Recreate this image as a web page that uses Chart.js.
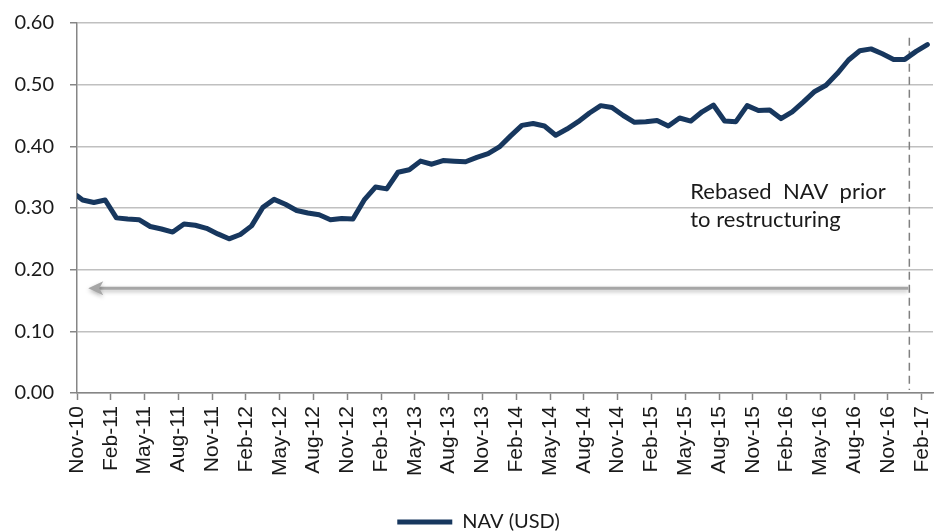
<!DOCTYPE html>
<html><head><meta charset="utf-8">
<script src="https://cdn.jsdelivr.net/npm/chart.js@4.4.1/dist/chart.umd.min.js"></script>
<style>html,body{margin:0;padding:0;background:#fff}canvas{display:block}</style>
</head><body>
<canvas id="c" width="936" height="531"></canvas>
<script>
// Tick labels every 3 months (month 0 = Nov-10)
const tickLabels = ['Nov-10','Feb-11','May-11','Aug-11','Nov-11','Feb-12','May-12','Aug-12','Nov-12',
  'Feb-13','May-13','Aug-13','Nov-13','Feb-14','May-14','Aug-14','Nov-14','Feb-15','May-15','Aug-15',
  'Nov-15','Feb-16','May-16','Aug-16','Nov-16','Feb-17'];
const tickStepMonths = 3;
const axisEndMonth = 76;
// NAV (USD): launch value, then one value per month (mid-month)
const navValues = [0.320,
  0.313,0.309,0.313,0.284,0.282,0.281,0.270,0.266,0.261,0.274,0.272,0.267,0.258,0.250,0.257,0.271,
  0.301,0.314,0.306,0.296,0.292,0.289,0.281,0.283,0.282,0.313,0.334,0.331,0.358,0.362,0.376,0.371,
  0.377,0.376,0.375,0.382,0.388,0.399,0.417,0.434,0.437,0.433,0.418,0.428,0.440,0.454,0.466,0.463,
  0.450,0.439,0.440,0.442,0.433,0.446,0.441,0.456,0.467,0.441,0.440,0.466,0.458,0.459,0.445,0.456,
  0.472,0.489,0.499,0.518,0.540,0.555,0.558,0.550,0.541,0.541,0.554,0.565];
const seriesName = 'NAV (USD)';
const yTicks = [0.00,0.10,0.20,0.30,0.40,0.50,0.60];
const annotationLines = ['Rebased  NAV  prior', 'to restructuring'];
const restructureMonth = 73.9;   // dashed marker
const arrowLevel = 0.17;         // arrow value
const arrowTipMonth = 1.0;
const noteMonth = 54.45;
const noteLevel = 0.3146;

const navMonth = navValues.map((v, i) => i === 0 ? 0 : i - 0.5);
const points = navValues.map((v, i) => ({x: navMonth[i], y: v}));

const legendShift = {
  id: 'legendShift',
  afterLayout(chart) { if (chart.legend) chart.legend.left += 24; }
};

const annot = {
  id: 'annot',
  beforeDatasetsDraw(chart) {
    const {ctx, scales: {x, y}} = chart;
    ctx.save();
    // dashed vertical line
    const xd = x.getPixelForValue(restructureMonth);
    ctx.strokeStyle = '#808080';
    ctx.lineWidth = 1.5;
    ctx.setLineDash([8, 5]);
    ctx.beginPath();
    ctx.moveTo(xd, y.getPixelForValue(0.576));
    ctx.lineTo(xd, y.getPixelForValue(0.005));
    ctx.stroke();
    ctx.setLineDash([]);
    // arrow with soft shadow
    const ya = y.getPixelForValue(arrowLevel);
    const xt = x.getPixelForValue(arrowTipMonth);
    ctx.shadowColor = 'rgba(0,0,0,0.28)';
    ctx.shadowBlur = 4;
    ctx.shadowOffsetY = 2;
    ctx.strokeStyle = '#a6a6a6';
    ctx.fillStyle = '#a6a6a6';
    ctx.lineWidth = 3;
    ctx.beginPath();
    ctx.moveTo(xd - 1, ya);
    ctx.lineTo(xt + 10, ya);
    ctx.stroke();
    ctx.beginPath();
    ctx.moveTo(xt, ya);
    ctx.lineTo(xt + 15, ya - 7);
    ctx.lineTo(xt + 11, ya);
    ctx.lineTo(xt + 15, ya + 7);
    ctx.closePath();
    ctx.fill();
    ctx.restore();
    // note text
    ctx.save();
    ctx.fillStyle = '#1a1a1a';
    ctx.font = '22px Lato';
    ctx.textBaseline = 'alphabetic';
    const xn = x.getPixelForValue(noteMonth);
    const yn = y.getPixelForValue(noteLevel);
    annotationLines.forEach((t, i) => ctx.fillText(t, xn, yn + i * 28.5));
    ctx.restore();
  }
};

new Chart(document.getElementById('c'), {
  type: 'line',
  data: {
    datasets: [{
      label: seriesName,
      data: points,
      borderColor: '#17375e',
      backgroundColor: '#17375e',
      borderWidth: 5,
      pointRadius: 0,
      tension: 0,
      borderJoinStyle: 'round',
      borderCapStyle: 'round',
      pointStyle: 'line'
    }]
  },
  options: {
    responsive: false,
    animation: false,
    devicePixelRatio: 1,
    layout: {padding: {top: 23, right: 3, left: 0, bottom: -11}},
    plugins: {
      legend: {
        position: 'bottom',
        labels: {
          usePointStyle: true,
          pointStyleWidth: 55,
          boxHeight: 20,
          color: '#1a1a1a',
          font: {family: 'Lato', size: 20},
          padding: 4
        }
      },
      tooltip: {enabled: false}
    },
    scales: {
      x: {
        type: 'linear',
        min: 0,
        max: axisEndMonth,
        afterBuildTicks(s) { s.ticks = tickLabels.map((l, i) => ({value: i * tickStepMonths})); },
        afterFit(s) { s.height = 115; s.paddingRight = 0; s.paddingLeft = 0; },
        ticks: {
          autoSkip: false,
          minRotation: 90, maxRotation: 90,
          padding: 6,
          color: '#1a1a1a',
          font: {family: 'Liberation Sans', size: 21},
          callback: (v) => tickLabels[Math.round(v / tickStepMonths)]
        },
        grid: {drawOnChartArea: false, drawTicks: true, tickLength: 7, tickColor: '#868686', tickWidth: 1.5},
        border: {color: '#868686', width: 1.5}
      },
      y: {
        min: 0, max: 0.6,
        afterBuildTicks(s) { s.ticks = yTicks.map(v => ({value: v})); },
        afterFit(s) { s.width = 77; s.paddingTop = 0; s.paddingBottom = 0; },
        ticks: {
          padding: 16,
          color: '#1a1a1a',
          font: {family: 'Lato', size: 20},
          callback: (v) => v.toFixed(2)
        },
        grid: {color: '#c0c0c0', lineWidth: 1.5, tickLength: 7, tickColor: '#868686', tickWidth: 1.5},
        border: {color: '#868686', width: 1.5}
      }
    }
  },
  plugins: [annot, legendShift]
});
</script>
</body></html>
